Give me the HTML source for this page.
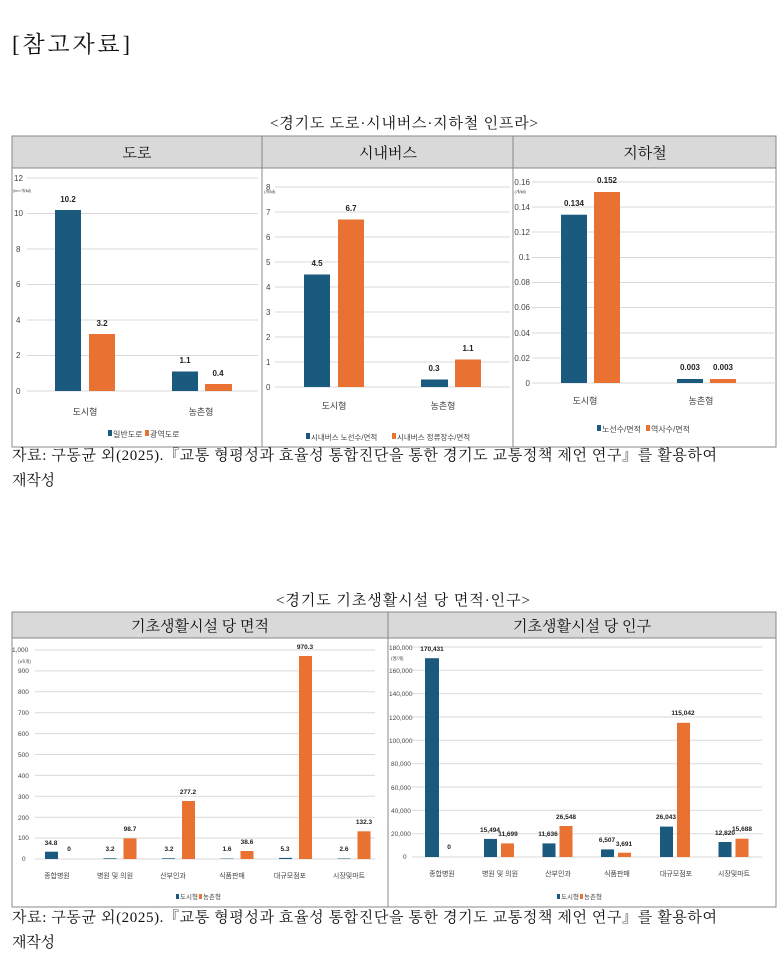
<!DOCTYPE html>
<html><head><meta charset="utf-8"><style>
html,body{margin:0;padding:0;background:#fff;width:779px;height:963px;overflow:hidden}
svg{display:block}
.s{font-family:"Liberation Serif","Noto Serif CJK KR",serif;fill:#111}
.c{font-family:"Liberation Sans","Noto Sans CJK KR",sans-serif;fill:#444}
.v{font-family:"Liberation Sans","Noto Sans CJK KR",sans-serif;fill:#222;font-weight:bold}
.g{stroke:#d9d9d9;stroke-width:1}
</style></head><body>
<svg width="779" height="963" viewBox="0 0 779 963" xmlns="http://www.w3.org/2000/svg">
<text x="12" y="52" class="s" font-size="23" textLength="118" lengthAdjust="spacing">[참고자료]</text>
<text x="270" y="128" class="s" font-size="15" textLength="268" lengthAdjust="spacing">&lt;경기도 도로·시내버스·지하철 인프라&gt;</text>

<!-- top table -->
<rect x="12" y="136" width="764" height="32" fill="#d9d9d9"/>
<rect x="12" y="136" width="764" height="311" fill="none" stroke="#888" stroke-width="1"/>
<line x1="12" y1="168" x2="776" y2="168" stroke="#888"/>
<line x1="262" y1="136" x2="262" y2="447" stroke="#888"/>
<line x1="513" y1="136" x2="513" y2="447" stroke="#888"/>
<text x="137" y="158" class="s" font-size="15" text-anchor="middle">도로</text>
<text x="388" y="158" class="s" font-size="15" text-anchor="middle">시내버스</text>
<text x="645" y="158" class="s" font-size="15" text-anchor="middle">지하철</text>

<!-- panel 1 -->
<g class="g">
<line x1="27" y1="178" x2="258" y2="178"/><line x1="27" y1="213.5" x2="258" y2="213.5"/><line x1="27" y1="249" x2="258" y2="249"/><line x1="27" y1="284.5" x2="258" y2="284.5"/><line x1="27" y1="320" x2="258" y2="320"/><line x1="27" y1="355.5" x2="258" y2="355.5"/><line x1="27" y1="391" x2="258" y2="391"/>
</g>
<g class="c" font-size="8">
<text x="14" y="181">12</text><text x="14" y="216">10</text><text x="16" y="252">8</text><text x="16" y="287">6</text><text x="16" y="323">4</text><text x="16" y="358">2</text><text x="16" y="394">0</text>
<text x="13" y="192" font-size="4">(km·개/㎢)</text>
</g>
<rect x="55" y="210" width="26" height="181" fill="#1a5a7e"/>
<rect x="89" y="334" width="26" height="57" fill="#e97132"/>
<rect x="172" y="371.5" width="26" height="19.5" fill="#1a5a7e"/>
<rect x="205" y="384" width="27" height="7" fill="#e97132"/>
<g class="v" font-size="8" text-anchor="middle">
<text x="68" y="202">10.2</text><text x="102" y="326">3.2</text><text x="185" y="363">1.1</text><text x="218" y="376">0.4</text>
</g>
<g class="c" font-size="9" text-anchor="middle" fill="#333"><text x="85" y="415">도시형</text><text x="201" y="415">농촌형</text></g>
<g class="c" font-size="8" fill="#333"><rect x="108" y="430" width="4" height="6" fill="#1a5a7e"/><text x="113" y="437">일반도로</text><rect x="145" y="430" width="4" height="6" fill="#e97132"/><text x="150" y="437">광역도로</text></g>

<!-- panel 2 -->
<g class="g">
<line x1="275" y1="187" x2="510" y2="187"/><line x1="275" y1="212" x2="510" y2="212"/><line x1="275" y1="237" x2="510" y2="237"/><line x1="275" y1="262" x2="510" y2="262"/><line x1="275" y1="287" x2="510" y2="287"/><line x1="275" y1="312" x2="510" y2="312"/><line x1="275" y1="337" x2="510" y2="337"/><line x1="275" y1="362" x2="510" y2="362"/><line x1="275" y1="387" x2="510" y2="387"/>
</g>
<g class="c" font-size="8">
<text x="266" y="190">8</text><text x="266" y="215">7</text><text x="266" y="240">6</text><text x="266" y="265">5</text><text x="266" y="290">4</text><text x="266" y="315">3</text><text x="266" y="340">2</text><text x="266" y="365">1</text><text x="266" y="390">0</text>
<text x="264" y="193" font-size="4">(개/㎢)</text>
</g>
<rect x="304" y="274.5" width="26" height="112.5" fill="#1a5a7e"/>
<rect x="338" y="219.5" width="26" height="167.5" fill="#e97132"/>
<rect x="421" y="379.5" width="27" height="7.5" fill="#1a5a7e"/>
<rect x="455" y="359.5" width="26" height="27.5" fill="#e97132"/>
<g class="v" font-size="8" text-anchor="middle">
<text x="317" y="266">4.5</text><text x="351" y="211">6.7</text><text x="434" y="371">0.3</text><text x="468" y="351">1.1</text>
</g>
<g class="c" font-size="9" text-anchor="middle" fill="#333"><text x="334" y="409">도시형</text><text x="443" y="409">농촌형</text></g>
<g class="c" font-size="7.5" fill="#333"><rect x="306" y="433" width="4" height="6" fill="#1a5a7e"/><text x="311" y="440">시내버스 노선수/면적</text><rect x="392" y="433" width="4" height="6" fill="#e97132"/><text x="397" y="440">시내버스 정류장수/면적</text></g>

<!-- panel 3 -->
<g class="g">
<line x1="532" y1="182" x2="776" y2="182"/><line x1="532" y1="207" x2="776" y2="207"/><line x1="532" y1="232" x2="776" y2="232"/><line x1="532" y1="257.5" x2="776" y2="257.5"/><line x1="532" y1="282.5" x2="776" y2="282.5"/><line x1="532" y1="307.5" x2="776" y2="307.5"/><line x1="532" y1="333" x2="776" y2="333"/><line x1="532" y1="358" x2="776" y2="358"/><line x1="532" y1="383" x2="776" y2="383"/>
</g>
<g class="c" font-size="8" text-anchor="end">
<text x="530" y="185">0.16</text><text x="530" y="210">0.14</text><text x="530" y="235">0.12</text><text x="530" y="260">0.1</text><text x="530" y="285">0.08</text><text x="530" y="310">0.06</text><text x="530" y="336">0.04</text><text x="530" y="361">0.02</text><text x="530" y="386">0</text>
<text x="526" y="193" font-size="4">(개/㎢)</text>
</g>
<rect x="561" y="214.7" width="26" height="168.3" fill="#1a5a7e"/>
<rect x="594" y="192" width="26" height="191" fill="#e97132"/>
<rect x="677" y="379" width="26" height="4" fill="#1a5a7e"/>
<rect x="710" y="379" width="26" height="4" fill="#e97132"/>
<g class="v" font-size="8" text-anchor="middle">
<text x="574" y="206">0.134</text><text x="607" y="183">0.152</text><text x="690" y="370">0.003</text><text x="723" y="370">0.003</text>
</g>
<g class="c" font-size="9" text-anchor="middle" fill="#333"><text x="585" y="404">도시형</text><text x="701" y="404">농촌형</text></g>
<g class="c" font-size="8" fill="#333"><rect x="597" y="425" width="4" height="6" fill="#1a5a7e"/><text x="602" y="432">노선수/면적</text><rect x="646" y="425" width="4" height="6" fill="#e97132"/><text x="651" y="432">역사수/면적</text></g>

<text x="12" y="460" class="s" font-size="15" textLength="705" lengthAdjust="spacing">자료: 구동균 외(2025).『교통 형평성과 효율성 통합진단을 통한 경기도 교통정책 제언 연구』를 활용하여</text>
<text x="12" y="485" class="s" font-size="15" textLength="43" lengthAdjust="spacing">재작성</text>

<!-- bottom -->
<text x="276" y="605" class="s" font-size="15" textLength="254" lengthAdjust="spacing">&lt;경기도 기초생활시설 당 면적·인구&gt;</text>
<rect x="12" y="612" width="764" height="26" fill="#d9d9d9"/>
<rect x="12" y="612" width="764" height="295" fill="none" stroke="#888"/>
<line x1="12" y1="638" x2="776" y2="638" stroke="#888"/>
<line x1="388" y1="612" x2="388" y2="907" stroke="#888"/>
<text x="200" y="631" class="s" font-size="15" text-anchor="middle">기초생활시설 당 면적</text>
<text x="582" y="631" class="s" font-size="15" text-anchor="middle">기초생활시설 당 인구</text>

<!-- bottom left -->
<g class="g">
<line x1="35" y1="650" x2="375" y2="650"/><line x1="35" y1="670.9" x2="375" y2="670.9"/><line x1="35" y1="691.8" x2="375" y2="691.8"/><line x1="35" y1="712.7" x2="375" y2="712.7"/><line x1="35" y1="733.6" x2="375" y2="733.6"/><line x1="35" y1="754.5" x2="375" y2="754.5"/><line x1="35" y1="775.4" x2="375" y2="775.4"/><line x1="35" y1="796.3" x2="375" y2="796.3"/><line x1="35" y1="817.2" x2="375" y2="817.2"/><line x1="35" y1="838.1" x2="375" y2="838.1"/><line x1="35" y1="859" x2="375" y2="859"/>
</g>
<g class="c" font-size="6.5">
<text x="12" y="652">1,000</text><text x="18" y="663" font-size="4.5">(㎡/개)</text><text x="18" y="673">900</text><text x="18" y="694">800</text><text x="18" y="715">700</text><text x="18" y="736">600</text><text x="18" y="757">500</text><text x="18" y="778">400</text><text x="18" y="799">300</text><text x="18" y="820">200</text><text x="18" y="840">100</text><text x="22" y="861">0</text>
</g>
<g fill="#1a5a7e">
<rect x="45" y="851.7" width="13" height="7.3"/><rect x="103.5" y="858.3" width="13" height="0.7"/><rect x="162" y="858.3" width="13" height="0.7"/><rect x="220.5" y="858.6" width="13" height="0.4"/><rect x="279" y="857.9" width="13" height="1.1"/><rect x="337.5" y="858.5" width="13" height="0.5"/>
</g>
<g fill="#e97132">
<rect x="123.5" y="838.4" width="13" height="20.6"/><rect x="182" y="801" width="13" height="58"/><rect x="240.5" y="851" width="13" height="8"/><rect x="299" y="656" width="13" height="203"/><rect x="357.5" y="831.3" width="13" height="27.7"/>
</g>
<g class="v" font-size="6.5" text-anchor="middle">
<text x="51" y="845">34.8</text><text x="69" y="851">0</text>
<text x="110" y="851">3.2</text><text x="130" y="831">98.7</text>
<text x="169" y="851">3.2</text><text x="188" y="794">277.2</text>
<text x="227" y="851">1.6</text><text x="247" y="844">38.6</text>
<text x="285" y="851">5.3</text><text x="305" y="649">970.3</text>
<text x="344" y="851">2.6</text><text x="364" y="824">132.3</text>
</g>
<g class="c" font-size="7" text-anchor="middle" fill="#333">
<text x="57" y="878">종합병원</text><text x="115" y="878">병원 및 의원</text><text x="173" y="878">산부인과</text><text x="232" y="878">식품판매</text><text x="290" y="878">대규모점포</text><text x="349" y="878">시장및마트</text>
</g>
<g class="c" font-size="6.5" fill="#333"><rect x="176" y="894" width="3" height="5" fill="#1a5a7e"/><text x="180" y="899">도시형</text><rect x="199" y="894" width="3" height="5" fill="#e97132"/><text x="203" y="899">농촌형</text></g>

<!-- bottom right -->
<g class="g">
<line x1="412" y1="647" x2="762" y2="647"/><line x1="412" y1="670.3" x2="762" y2="670.3"/><line x1="412" y1="693.7" x2="762" y2="693.7"/><line x1="412" y1="717" x2="762" y2="717"/><line x1="412" y1="740.3" x2="762" y2="740.3"/><line x1="412" y1="763.7" x2="762" y2="763.7"/><line x1="412" y1="787" x2="762" y2="787"/><line x1="412" y1="810.3" x2="762" y2="810.3"/><line x1="412" y1="833.7" x2="762" y2="833.7"/><line x1="412" y1="857" x2="762" y2="857"/>
</g>
<g class="c" font-size="6.5">
<text x="389" y="650">180,000</text><text x="391" y="660" font-size="4.5">(명/개)</text><text x="389" y="673">160,000</text><text x="389" y="696">140,000</text><text x="389" y="720">120,000</text><text x="389" y="743">100,000</text><text x="391" y="766">80,000</text><text x="391" y="790">60,000</text><text x="391" y="813">40,000</text><text x="391" y="836">20,000</text><text x="403" y="859">0</text>
</g>
<g fill="#1a5a7e">
<rect x="425" y="658.2" width="14" height="198.8"/><rect x="484" y="838.9" width="13" height="18.1"/><rect x="542.5" y="843.4" width="13" height="13.6"/><rect x="601" y="849.4" width="13" height="7.6"/><rect x="660" y="826.6" width="13" height="30.4"/><rect x="718.5" y="842" width="13" height="15"/>
</g>
<g fill="#e97132">
<rect x="501" y="843.4" width="13" height="13.6"/><rect x="559.5" y="826" width="13" height="31"/><rect x="618" y="852.7" width="13" height="4.3"/><rect x="677" y="722.8" width="13" height="134.2"/><rect x="735.5" y="838.7" width="13" height="18.3"/>
</g>
<g class="v" font-size="6.5" text-anchor="middle">
<text x="432" y="651">170,431</text><text x="449" y="849">0</text>
<text x="490" y="832">15,494</text><text x="508" y="836">11,699</text>
<text x="548" y="836">11,636</text><text x="566" y="819">26,548</text>
<text x="607" y="842">6,507</text><text x="624" y="846">3,691</text>
<text x="666" y="819">26,043</text><text x="683" y="715">115,042</text>
<text x="725" y="835">12,820</text><text x="742" y="831">15,688</text>
</g>
<g class="c" font-size="7" text-anchor="middle" fill="#333">
<text x="442" y="876">종합병원</text><text x="500" y="876">병원 및 의원</text><text x="558" y="876">산부인과</text><text x="617" y="876">식품판매</text><text x="676" y="876">대규모점포</text><text x="734" y="876">시장및마트</text>
</g>
<g class="c" font-size="6.5" fill="#333"><rect x="557" y="894" width="3" height="5" fill="#1a5a7e"/><text x="561" y="899">도시형</text><rect x="580" y="894" width="3" height="5" fill="#e97132"/><text x="584" y="899">농촌형</text></g>

<text x="12" y="922" class="s" font-size="15" textLength="705" lengthAdjust="spacing">자료: 구동균 외(2025).『교통 형평성과 효율성 통합진단을 통한 경기도 교통정책 제언 연구』를 활용하여</text>
<text x="12" y="947" class="s" font-size="15" textLength="43" lengthAdjust="spacing">재작성</text>
</svg>
</body></html>
